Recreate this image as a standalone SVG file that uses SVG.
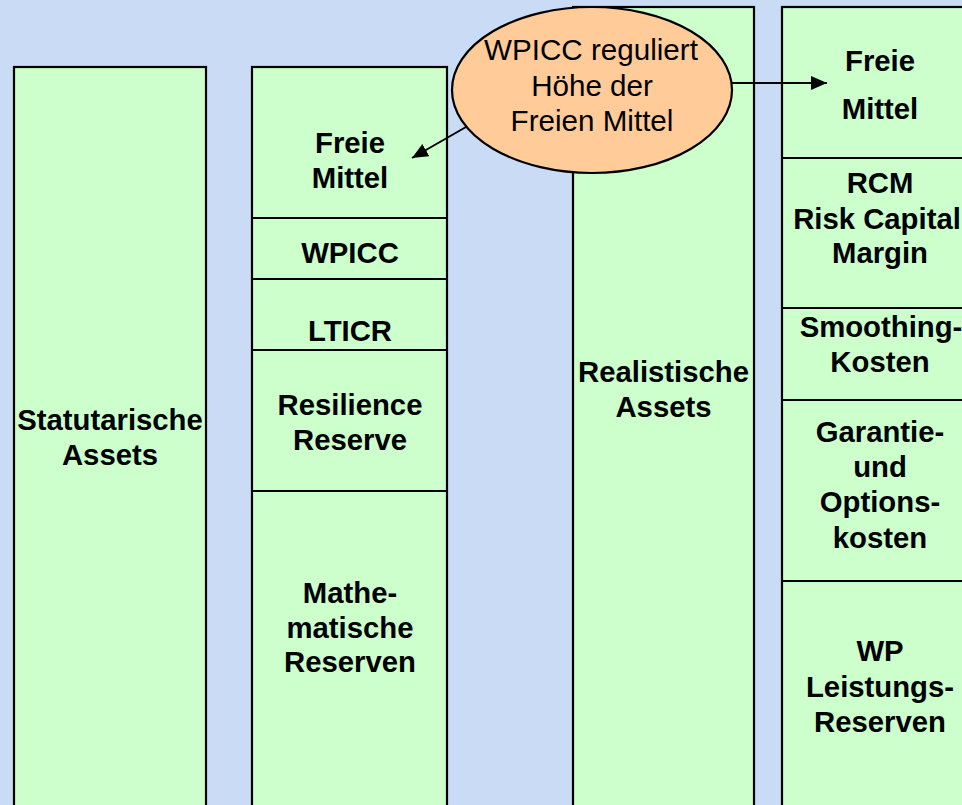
<svg xmlns="http://www.w3.org/2000/svg" width="962" height="805" viewBox="0 0 962 805">
<defs>
<style>
.col{fill:#CCFFCC;stroke:#000;stroke-width:2.2}
.div{stroke:#000;stroke-width:2.2;fill:none}
.lbl{font-family:"Liberation Sans",Arial,sans-serif;font-weight:bold;font-size:29.3px;text-anchor:middle;fill:#000}
.ell{font-family:"Liberation Sans",Arial,sans-serif;font-size:29.6px;text-anchor:middle;fill:#000}
.conn{stroke:#000;stroke-width:2;fill:none}
</style>
<marker id="arr" markerUnits="userSpaceOnUse" markerWidth="16" markerHeight="14" refX="16" refY="7" orient="auto">
<path d="M0,0 L16,7 L0,14 z" fill="#000"/>
</marker>
</defs>
<rect x="0" y="0" width="962" height="805" fill="#C9DBF5"/>

<g id="statutarische-assets">
<rect class="col" x="14" y="67" width="192" height="760"/>
<text class="lbl" x="110" y="430">Statutarische</text>
<text class="lbl" x="110" y="465">Assets</text>
</g>

<g id="statutarische-liabilities">
<rect class="col" x="252" y="67" width="195" height="760"/>
<line class="div" x1="252" y1="218" x2="447" y2="218"/>
<line class="div" x1="252" y1="279" x2="447" y2="279"/>
<line class="div" x1="252" y1="350" x2="447" y2="350"/>
<line class="div" x1="252" y1="491" x2="447" y2="491"/>
<text class="lbl" x="350" y="153">Freie</text>
<text class="lbl" x="350" y="188">Mittel</text>
<text class="lbl" x="350" y="263">WPICC</text>
<text class="lbl" x="350" y="341">LTICR</text>
<text class="lbl" x="350" y="415">Resilience</text>
<text class="lbl" x="350" y="450">Reserve</text>
<text class="lbl" x="350" y="603">Mathe-</text>
<text class="lbl" x="350" y="638">matische</text>
<text class="lbl" x="350" y="672">Reserven</text>
</g>

<g id="realistische-assets">
<rect class="col" x="573" y="7" width="181" height="820"/>
<text class="lbl" x="663.5" y="382">Realistische</text>
<text class="lbl" x="663.5" y="417">Assets</text>
</g>

<g id="realistische-liabilities">
<rect class="col" x="782" y="7" width="196" height="820"/>
<line class="div" x1="782" y1="158" x2="978" y2="158"/>
<line class="div" x1="782" y1="308" x2="978" y2="308"/>
<line class="div" x1="782" y1="400" x2="978" y2="400"/>
<line class="div" x1="782" y1="581" x2="978" y2="581"/>
<text class="lbl" x="880" y="71">Freie</text>
<text class="lbl" x="880" y="119">Mittel</text>
<text class="lbl" x="880" y="193">RCM</text>
<text class="lbl" x="877" y="229">Risk Capital</text>
<text class="lbl" x="880" y="263">Margin</text>
<text class="lbl" x="881" y="337">Smoothing-</text>
<text class="lbl" x="880" y="372">Kosten</text>
<text class="lbl" x="880" y="442">Garantie-</text>
<text class="lbl" x="880" y="477">und</text>
<text class="lbl" x="880" y="512">Options-</text>
<text class="lbl" x="880" y="548">kosten</text>
<text class="lbl" x="880" y="661">WP</text>
<text class="lbl" x="880" y="697">Leistungs-</text>
<text class="lbl" x="880" y="732">Reserven</text>
</g>

<g id="wpicc-ellipse">
<ellipse cx="592" cy="90" rx="140" ry="83" fill="#FFCC99" stroke="#000" stroke-width="2.2"/>
<text class="ell" x="591" y="60">WPICC reguliert</text>
<text class="ell" x="592" y="96">Höhe der</text>
<text class="ell" x="592" y="131">Freien Mittel</text>
</g>

<g id="connectors">
<line class="conn" x1="466" y1="127" x2="412" y2="158" marker-end="url(#arr)"/>
<line class="conn" x1="732" y1="83" x2="827" y2="83" marker-end="url(#arr)"/>
</g>
</svg>
